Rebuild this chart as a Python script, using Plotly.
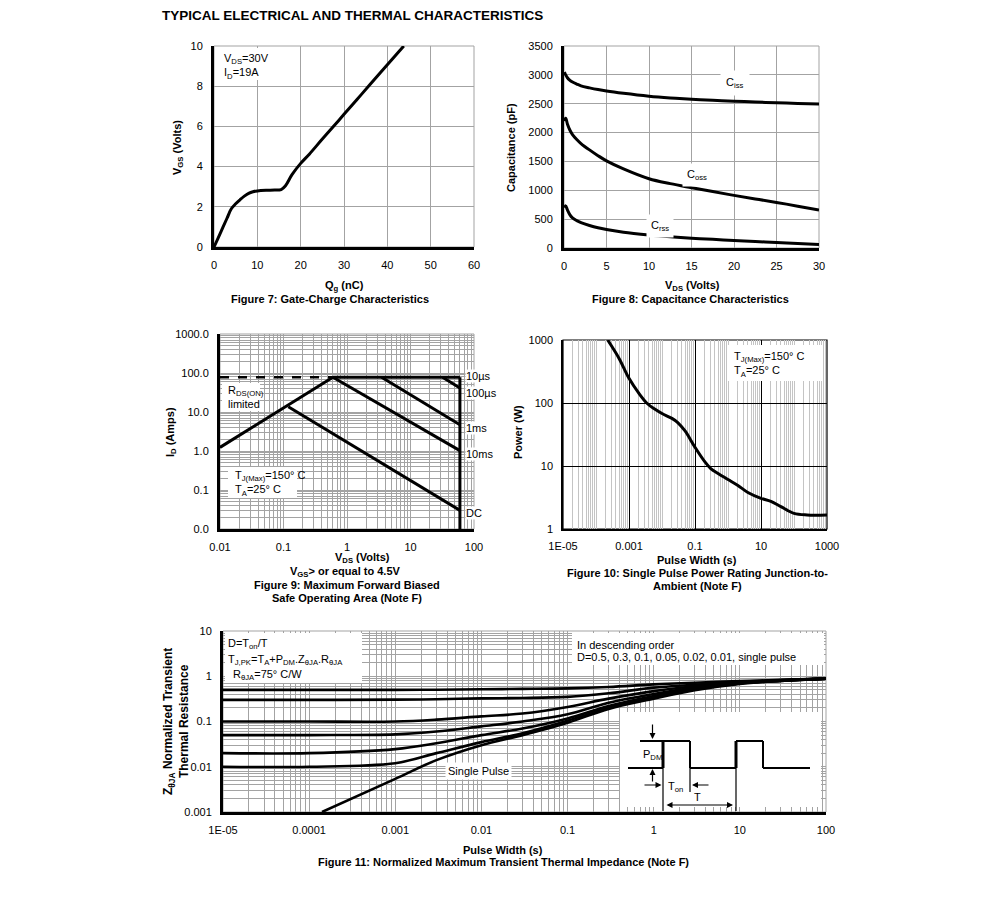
import plotly.graph_objects as go

W, H = 991, 901          # browser window
OFF = 8                  # default page body margin
FW, FH = W - OFF, H - OFF  # figure size so that it fits the window exactly
FONT = "Liberation Sans, Arial, sans-serif"
GRID = "#a3a3a3"

# ---------------- data ----------------
# Figure 7: gate charge
gate_charge_nc = [0, 1, 2, 3, 4, 5, 6, 7, 8, 9, 10, 12, 14, 15.5, 16.5, 18, 20, 22, 25, 27.7, 30, 33, 36, 40, 43.8]
gate_voltage_v = [0, 0.47, 0.95, 1.43, 1.9, 2.15, 2.35, 2.53, 2.67, 2.75, 2.79, 2.82, 2.83, 2.86, 3.05, 3.6, 4.16, 4.62, 5.37, 6.03, 6.6, 7.34, 8.08, 9.07, 10.0]

# Figure 8: capacitance
cap_vds_v = [0.05, 0.2, 0.4, 0.7, 1, 1.5, 2, 3, 4, 5, 7, 10, 12.5, 15, 17.5, 20, 22.5, 25, 27.5, 30]
ciss_pf = [3050, 3000, 2950, 2905, 2875, 2840, 2810, 2775, 2745, 2720, 2680, 2630, 2600, 2577, 2558, 2543, 2530, 2516, 2505, 2495]
coss_pf = [2200, 2250, 2150, 2040, 1965, 1880, 1810, 1700, 1600, 1510, 1370, 1200, 1115, 1045, 978, 912, 850, 790, 725, 660]
crss_pf = [700, 730, 660, 575, 522, 475, 440, 390, 350, 320, 272, 225, 195, 170, 150, 131, 112, 95, 78, 62]

# Figure 9: safe operating area
soa_rds_vds = [0.01, 0.6]
soa_rds_id = [1.24, 78]
soa_dash_vds = [0.01, 0.6]
soa_dash_id = [78, 78]
soa_top_vds = [0.6, 60]
soa_top_id = [78, 78]
soa_vmax_vds = [60, 60]
soa_vmax_id = [0.01, 78]
soa_dc_vds = [0.119, 60]
soa_dc_id = [13.6, 0.03]
soa_10ms_vds = [0.6, 60]
soa_10ms_id = [78, 1.02]
soa_1ms_vds = [3.5, 60]
soa_1ms_id = [78, 4.7]
soa_100us_vds = [32, 60]
soa_100us_id = [78, 41]

# Figure 10: single pulse power
pulse_s = [2.26e-4, 5e-4, 1e-3, 2e-3, 3.5e-3, 6e-3, 0.01, 0.02, 0.03, 0.05, 0.1, 0.2, 0.3, 0.5, 1, 2, 4, 10, 20, 40, 100, 250, 1000]
power_w = [1000, 510, 246, 142, 99, 80, 68, 57, 49, 36, 19.8, 11.6, 9.1, 7.6, 6.1, 4.9, 3.8, 3.07, 2.75, 2.26, 1.77, 1.67, 1.67]

# Figure 11: transient thermal impedance
zth_t = [1e-5, 1e-4, 1e-3, 3e-3, 1e-2, 3e-2, 0.1, 0.3, 1, 3, 10, 30, 100]
zth_d050 = [0.50, 0.50, 0.50, 0.505, 0.515, 0.525, 0.54, 0.58, 0.66, 0.72, 0.78, 0.83, 0.885]
zth_d030 = [0.30, 0.30, 0.305, 0.31, 0.325, 0.33, 0.35, 0.42, 0.56, 0.65, 0.75, 0.82, 0.885]
zth_d010 = [0.10, 0.10, 0.10, 0.11, 0.13, 0.15, 0.21, 0.32, 0.47, 0.60, 0.73, 0.81, 0.885]
zth_d005 = [0.05, 0.05, 0.052, 0.06, 0.078, 0.10, 0.144, 0.26, 0.405, 0.56, 0.71, 0.80, 0.885]
zth_d002 = [0.02, 0.02, 0.0245, 0.033, 0.05, 0.07, 0.117, 0.22, 0.366, 0.53, 0.70, 0.80, 0.885]
zth_d001 = [0.01, 0.01, 0.012, 0.02, 0.035, 0.055, 0.104, 0.20, 0.336, 0.51, 0.69, 0.79, 0.885]
zth_single_t = [1.41e-4, 1e-3, 3e-3, 1e-2, 3e-2, 0.1, 0.3, 1, 3, 10, 30, 100]
zth_single = [0.001, 0.0054, 0.014, 0.03, 0.05, 0.094, 0.19, 0.319, 0.49, 0.674, 0.785, 0.885]

# tick labels
soa_x_ticks = [0.01, 0.1, 1, 10, 100]
soa_x_text = ["0.01", "0.1", "1", "10", "100"]
soa_y_ticks = [0.01, 0.1, 1, 10, 100, 1000]
soa_y_text = ["0.0", "0.1", "1.0", "10.0", "100.0", "1000.0"]
pw_x_ticks = [1e-5, 1e-3, 0.1, 10, 1000]
pw_x_text = ["1E-05", "0.001", "0.1", "10", "1000"]
pw_y_ticks = [1, 10, 100, 1000]
pw_y_text = ["1", "10", "100", "1000"]
z_x_ticks = [1e-5, 1e-4, 1e-3, 1e-2, 0.1, 1, 10, 100]
z_x_text = ["1E-05", "0.0001", "0.001", "0.01", "0.1", "1", "10", "100"]
z_y_ticks = [0.001, 0.01, 0.1, 1, 10]
z_y_text = ["0.001", "0.01", "0.1", "1", "10"]

# ---------------- helpers ----------------
fig = go.Figure()


def fx(x):
    return (x - OFF) / FW


def fy(y):
    return 1 - (y - OFF) / FH


def line(x, y, ax, width=3, dash="solid", shape="linear"):
    fig.add_trace(go.Scatter(x=x, y=y, mode="lines", xaxis="x" + ax, yaxis="y" + ax,
                             line=dict(color="black", width=width, dash=dash, shape=shape),
                             hoverinfo="skip", showlegend=False))


def xdom(a, b):
    return [fx(a), fx(b)]


def ydom(top, bottom):
    return [fy(bottom), fy(top)]


def minor_vals(lo, hi, majors=()):
    vals = []
    for k in range(lo, hi):
        for d in range(1, 10):
            v = d * 10.0 ** k
            if any(abs(v - m) / m < 1e-9 for m in majors):
                continue
            vals.append(v)
    return vals


def note(text, x, y, size=11, xanchor="center", yanchor="middle", align="center",
         bg="rgba(0,0,0,0)", angle=0, pad=1):
    fig.add_annotation(text=text, x=fx(x), y=fy(y), xref="paper", yref="paper",
                       showarrow=False, xanchor=xanchor, yanchor=yanchor, align=align,
                       textangle=angle, bgcolor=bg, borderpad=pad,
                       font=dict(family=FONT, size=size, color="black"))


def rect(x0, y0, x1, y1, fill="white"):
    fig.add_shape(type="rect", xref="paper", yref="paper", x0=fx(x0), x1=fx(x1),
                  y0=fy(y1), y1=fy(y0), fillcolor=fill, line=dict(width=0), layer="above")


def seg(x0, y0, x1, y1, w=2):
    fig.add_shape(type="line", xref="paper", yref="paper", x0=fx(x0), y0=fy(y0),
                  x1=fx(x1), y1=fy(y1), line=dict(color="black", width=w), layer="above")


def arrow(hx, hy, tx, ty, both=False):
    fig.add_annotation(x=fx(hx), y=fy(hy), xref="paper", yref="paper",
                       ax=tx - hx, ay=ty - hy, axref="pixel", ayref="pixel", text="",
                       showarrow=True, arrowhead=2, arrowsize=1, arrowwidth=1.2,
                       arrowcolor="black", arrowside="end+start" if both else "end",
                       standoff=0, startstandoff=0)


def border(ax, color=GRID, width=1):
    fig.add_shape(type="rect", xref="x%s domain" % ax, yref="y%s domain" % ax,
                  x0=0, x1=1, y0=0, y1=1, line=dict(color=color, width=width), layer="below")


# ---------------- traces ----------------
line(gate_charge_nc, gate_voltage_v, "", shape="spline")

line(cap_vds_v, ciss_pf, "2", shape="spline")
line(cap_vds_v, coss_pf, "2", shape="spline")
line(cap_vds_v, crss_pf, "2", shape="spline")

line(soa_dash_vds, soa_dash_id, "3", width=2.5, dash="dash")
line(soa_rds_vds, soa_rds_id, "3")
line(soa_top_vds, soa_top_id, "3")
line(soa_vmax_vds, soa_vmax_id, "3")
line(soa_dc_vds, soa_dc_id, "3")
line(soa_10ms_vds, soa_10ms_id, "3")
line(soa_1ms_vds, soa_1ms_id, "3")
line(soa_100us_vds, soa_100us_id, "3")

line(pulse_s, power_w, "4", shape="spline")

for zz in (zth_d050, zth_d030, zth_d010, zth_d005, zth_d002, zth_d001):
    line(zth_t, zz, "5", width=2.6, shape="spline")
line(zth_single_t, zth_single, "5", width=2.6, shape="spline")

# ---------------- axes ----------------
tickfont = dict(family=FONT, size=11, color="black")
base = dict(showline=True, linecolor="black", zeroline=False, ticks="outside", ticklen=6,
            tickcolor="rgba(0,0,0,0)", tickfont=tickfont, showgrid=True, gridcolor=GRID,
            gridwidth=1, fixedrange=True, automargin=False)

layout = dict(
    width=FW, height=FH, margin=dict(l=0, r=0, t=0, b=0, pad=0, autoexpand=False),
    paper_bgcolor="white", plot_bgcolor="white", showlegend=False,
    xaxis=dict(base, domain=xdom(214, 474), anchor="y", range=[0, 60], dtick=10, tick0=0, linewidth=3),
    yaxis=dict(base, domain=ydom(46, 247), anchor="x", range=[0, 10], dtick=2, tick0=0, linewidth=3),
    xaxis2=dict(base, domain=xdom(564, 819), anchor="y2", range=[0, 30], dtick=5, tick0=0, linewidth=3),
    yaxis2=dict(base, domain=ydom(46, 248), anchor="x2", range=[0, 3500], dtick=500, tick0=0, linewidth=3),
    xaxis3=dict(base, type="log", domain=xdom(220, 474), anchor="y3", range=[-2, 2],
                tickvals=soa_x_ticks, ticktext=soa_x_text, linewidth=3,
                minor=dict(tickvals=minor_vals(-2, 2, soa_x_ticks), showgrid=True, gridcolor=GRID, ticks="")),
    yaxis3=dict(base, type="log", domain=ydom(334, 529), anchor="x3", range=[-2, 3],
                tickvals=soa_y_ticks, ticktext=soa_y_text, linewidth=3,
                minor=dict(tickvals=minor_vals(-2, 3, soa_y_ticks), showgrid=True, gridcolor=GRID, ticks="")),
    xaxis4=dict(base, type="log", domain=xdom(563, 827), anchor="y4", range=[-5, 3],
                tickvals=pw_x_ticks, ticktext=pw_x_text, linewidth=1.5, gridcolor="black", gridwidth=1.2,
                minor=dict(tickvals=minor_vals(-5, 3, pw_x_ticks), showgrid=True, gridcolor="#c4c4c4", ticks="")),
    yaxis4=dict(base, type="log", domain=ydom(340, 529), anchor="x4", range=[0, 3],
                tickvals=pw_y_ticks, ticktext=pw_y_text, linewidth=1.5, gridcolor="black", gridwidth=1.2),
    xaxis5=dict(base, type="log", domain=xdom(223, 826), anchor="y5", range=[-5, 2],
                tickvals=z_x_ticks, ticktext=z_x_text, linewidth=3,
                minor=dict(tickvals=minor_vals(-5, 2, z_x_ticks), showgrid=True, gridcolor=GRID, ticks="")),
    yaxis5=dict(base, type="log", domain=ydom(631, 812), anchor="x5", range=[-3, 1],
                tickvals=z_y_ticks, ticktext=z_y_text, linewidth=3,
                minor=dict(tickvals=minor_vals(-3, 1, z_y_ticks), showgrid=True, gridcolor=GRID, ticks="")),
)
fig.update_layout(**layout)

border("")
border("2")
border("3")
border("4", color="black", width=1.2)
border("5")

# ---------------- texts ----------------
note("<b>TYPICAL ELECTRICAL AND THERMAL CHARACTERISTICS</b>", 160, 15, size=13.5, xanchor="left")

# Figure 7
rect(216, 48, 268, 80)
note("V<sub>DS</sub>=30V<br>I<sub>D</sub>=19A", 222, 67, xanchor="left", align="left")
note("<b>V<sub>GS</sub> (Volts)</b>", 178, 148, angle=-90)
note("<b>Q<sub>g</sub> (nC)</b>", 344, 286)
note("<b>Figure 7: Gate-Charge Characteristics</b>", 330, 299)

# Figure 8
note("C<sub>iss</sub>", 735, 83, bg="white", pad=5)
note("C<sub>oss</sub>", 697, 175, bg="white", pad=4)
note("C<sub>rss</sub>", 660, 226, bg="white", pad=4)
note("<b>Capacitance (pF)</b>", 511, 148, angle=-90)
note("<b>V<sub>DS</sub> (Volts)</b>", 692, 286)
note("<b>Figure 8: Capacitance Characteristics</b>", 690, 299)

# Figure 9
rect(222, 383, 260, 411)
note("R<sub>DS(ON)</sub><br>limited", 226, 397, xanchor="left", align="left")
rect(228, 467, 297, 498)
note("T<sub>J(Max)</sub>=150° C<br>T<sub>A</sub>=25° C", 233, 483, xanchor="left", align="left")
note("10µs", 465, 376, xanchor="left", bg="white", pad=0)
note("100µs", 465, 393, xanchor="left", bg="white", pad=0)
note("1ms", 465, 428, xanchor="left", bg="white", pad=0)
note("10ms", 465, 454, xanchor="left", bg="white", pad=0)
note("DC", 465, 513, xanchor="left", bg="white", pad=0)
note("<b>I<sub>D</sub> (Amps)</b>", 171, 432, angle=-90)
note("<b>V<sub>DS</sub> (Volts)</b>", 362, 558)
note("<b>V<sub>GS</sub>> or equal to 4.5V</b>", 345, 572)
note("<b>Figure 9: Maximum Forward Biased</b>", 347, 585)
note("<b>Safe Operating Area (Note F)</b>", 347, 598)

# Figure 10
rect(727, 345, 822, 381)
note("T<sub>J(Max)</sub>=150° C<br>T<sub>A</sub>=25° C", 732, 364, xanchor="left", align="left")
note("<b>Power (W)</b>", 518, 432, angle=-90)
note("<b>Pulse Width (s)</b>", 697, 560)
note("<b>Figure 10: Single Pulse Power Rating Junction-to-</b>", 697, 573)
note("<b>Ambient (Note F)</b>", 697, 586)

# Figure 11
rect(225, 633, 362, 683)
note("D=T<sub>on</sub>/T", 226, 644, xanchor="left")
note("T<sub>J,PK</sub>=T<sub>A</sub>+P<sub>DM</sub>.Z<sub>θJA</sub>.R<sub>θJA</sub>", 226, 660, xanchor="left")
note("R<sub>θJA</sub>=75° C/W", 231, 675, xanchor="left")
rect(572, 633, 824, 665)
note("In descending order", 575, 645, xanchor="left")
note("D=0.5, 0.3, 0.1, 0.05, 0.02, 0.01, single pulse", 575, 657, xanchor="left")
note("Single Pulse", 478, 771, bg="white", pad=2)
note("<b>Z<sub>θJA</sub> Normalized Transient<br>Thermal Resistance</b>", 176, 722, size=12, angle=-90)
note("<b>Pulse Width (s)</b>", 503, 850)
note("<b>Figure 11: Normalized Maximum Transient Thermal Impedance (Note F)</b>", 503, 862)

# inset pulse diagram
rect(620, 712, 821, 807)
seg(628, 768, 663, 768)
seg(640, 741, 663, 741)
seg(663, 741, 663, 768, w=3)
seg(663, 741, 690, 741)
seg(690, 741, 690, 768)
seg(690, 768, 736, 768)
seg(736, 741, 736, 768, w=3)
seg(736, 741, 763, 741)
seg(763, 741, 763, 768)
seg(763, 768, 810, 768)
seg(663, 768, 663, 811, w=1.2)
seg(690, 768, 690, 792, w=1.2)
seg(736, 768, 736, 811, w=1.2)
arrow(652.5, 739, 652.5, 723)
arrow(652.5, 769, 652.5, 783)
arrow(661.5, 785, 643, 785)
arrow(692, 785, 710, 785)
arrow(733, 805, 665, 805, both=True)
note("P<sub>DM</sub>", 652, 755)
note("T<sub>on</sub>", 675, 787)
note("T", 697, 797)

fig.write_html("out.html")
